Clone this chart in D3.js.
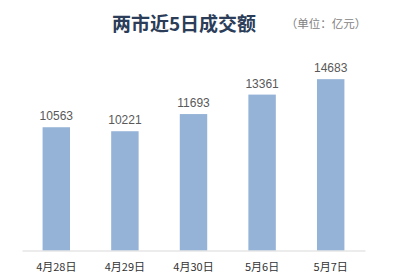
<!DOCTYPE html>
<html>
<head>
<meta charset="utf-8">
<script src="https://cdn.jsdelivr.net/npm/d3@7/dist/d3.min.js"></script>
<style>
  html, body { margin: 0; padding: 0; background: #fff; }
  svg { display: block; }
</style>
</head>
<body>
<svg id="chart" width="400" height="280"></svg>
<script>
// Daily turnover of the two exchanges over the last five trading days (亿元)
const categories = ["4月28日", "4月29日", "4月30日", "5月6日", "5月7日"];
const values = [10563, 10221, 11693, 13361, 14683];
const titleText = "两市近5日成交额";
const unitText = "（单位：亿元）";

const svg = d3.select("#chart");
const cjk = "'Noto Sans CJK SC', 'Noto Sans', sans-serif";

const x = d3.scaleBand()
  .domain(categories)
  .range([22, 365])
  .paddingInner(0.6)
  .paddingOuter(0.3);

const y = d3.scaleLinear()
  .domain([0, 16000])
  .range([250.5, 63.8]);

// Bars
svg.append("g")
  .selectAll("rect")
  .data(values)
  .join("rect")
  .attr("x", (d, i) => x(categories[i]))
  .attr("y", d => y(d))
  .attr("width", x.bandwidth())
  .attr("height", d => y(0) - y(d))
  .attr("fill", "#95b3d7");

// Value labels above the bars
svg.append("g")
  .selectAll("text")
  .data(values)
  .join("text")
  .attr("x", (d, i) => x(categories[i]) + x.bandwidth() / 2)
  .attr("y", d => y(d) - 7)
  .attr("text-anchor", "middle")
  .attr("font-family", "'Liberation Sans', Arial, sans-serif")
  .attr("font-size", 12)
  .attr("fill", "#595959")
  .text(d => d);

// Category axis
const xAxis = svg.append("g")
  .attr("transform", `translate(0,${y(0)})`)
  .call(d3.axisBottom(x).tickSize(0).tickPadding(13));
xAxis.select(".domain").attr("stroke", "#d9d9d9").attr("stroke-width", 1);
xAxis.selectAll("text")
  .attr("font-family", cjk)
  .attr("font-size", 11)
  .attr("fill", "#333");

// Title and unit
svg.append("text")
  .attr("x", 184)
  .attr("y", 31)
  .attr("text-anchor", "middle")
  .attr("font-family", cjk)
  .attr("font-weight", "bold")
  .attr("font-size", 19)
  .attr("fill", "#2b3d58")
  .text(titleText);

svg.append("text")
  .attr("x", 326)
  .attr("y", 27.5)
  .attr("text-anchor", "middle")
  .attr("font-family", cjk)
  .attr("font-size", 11.5)
  .attr("fill", "#7f7f7f")
  .text(unitText);
</script>
</body>
</html>
